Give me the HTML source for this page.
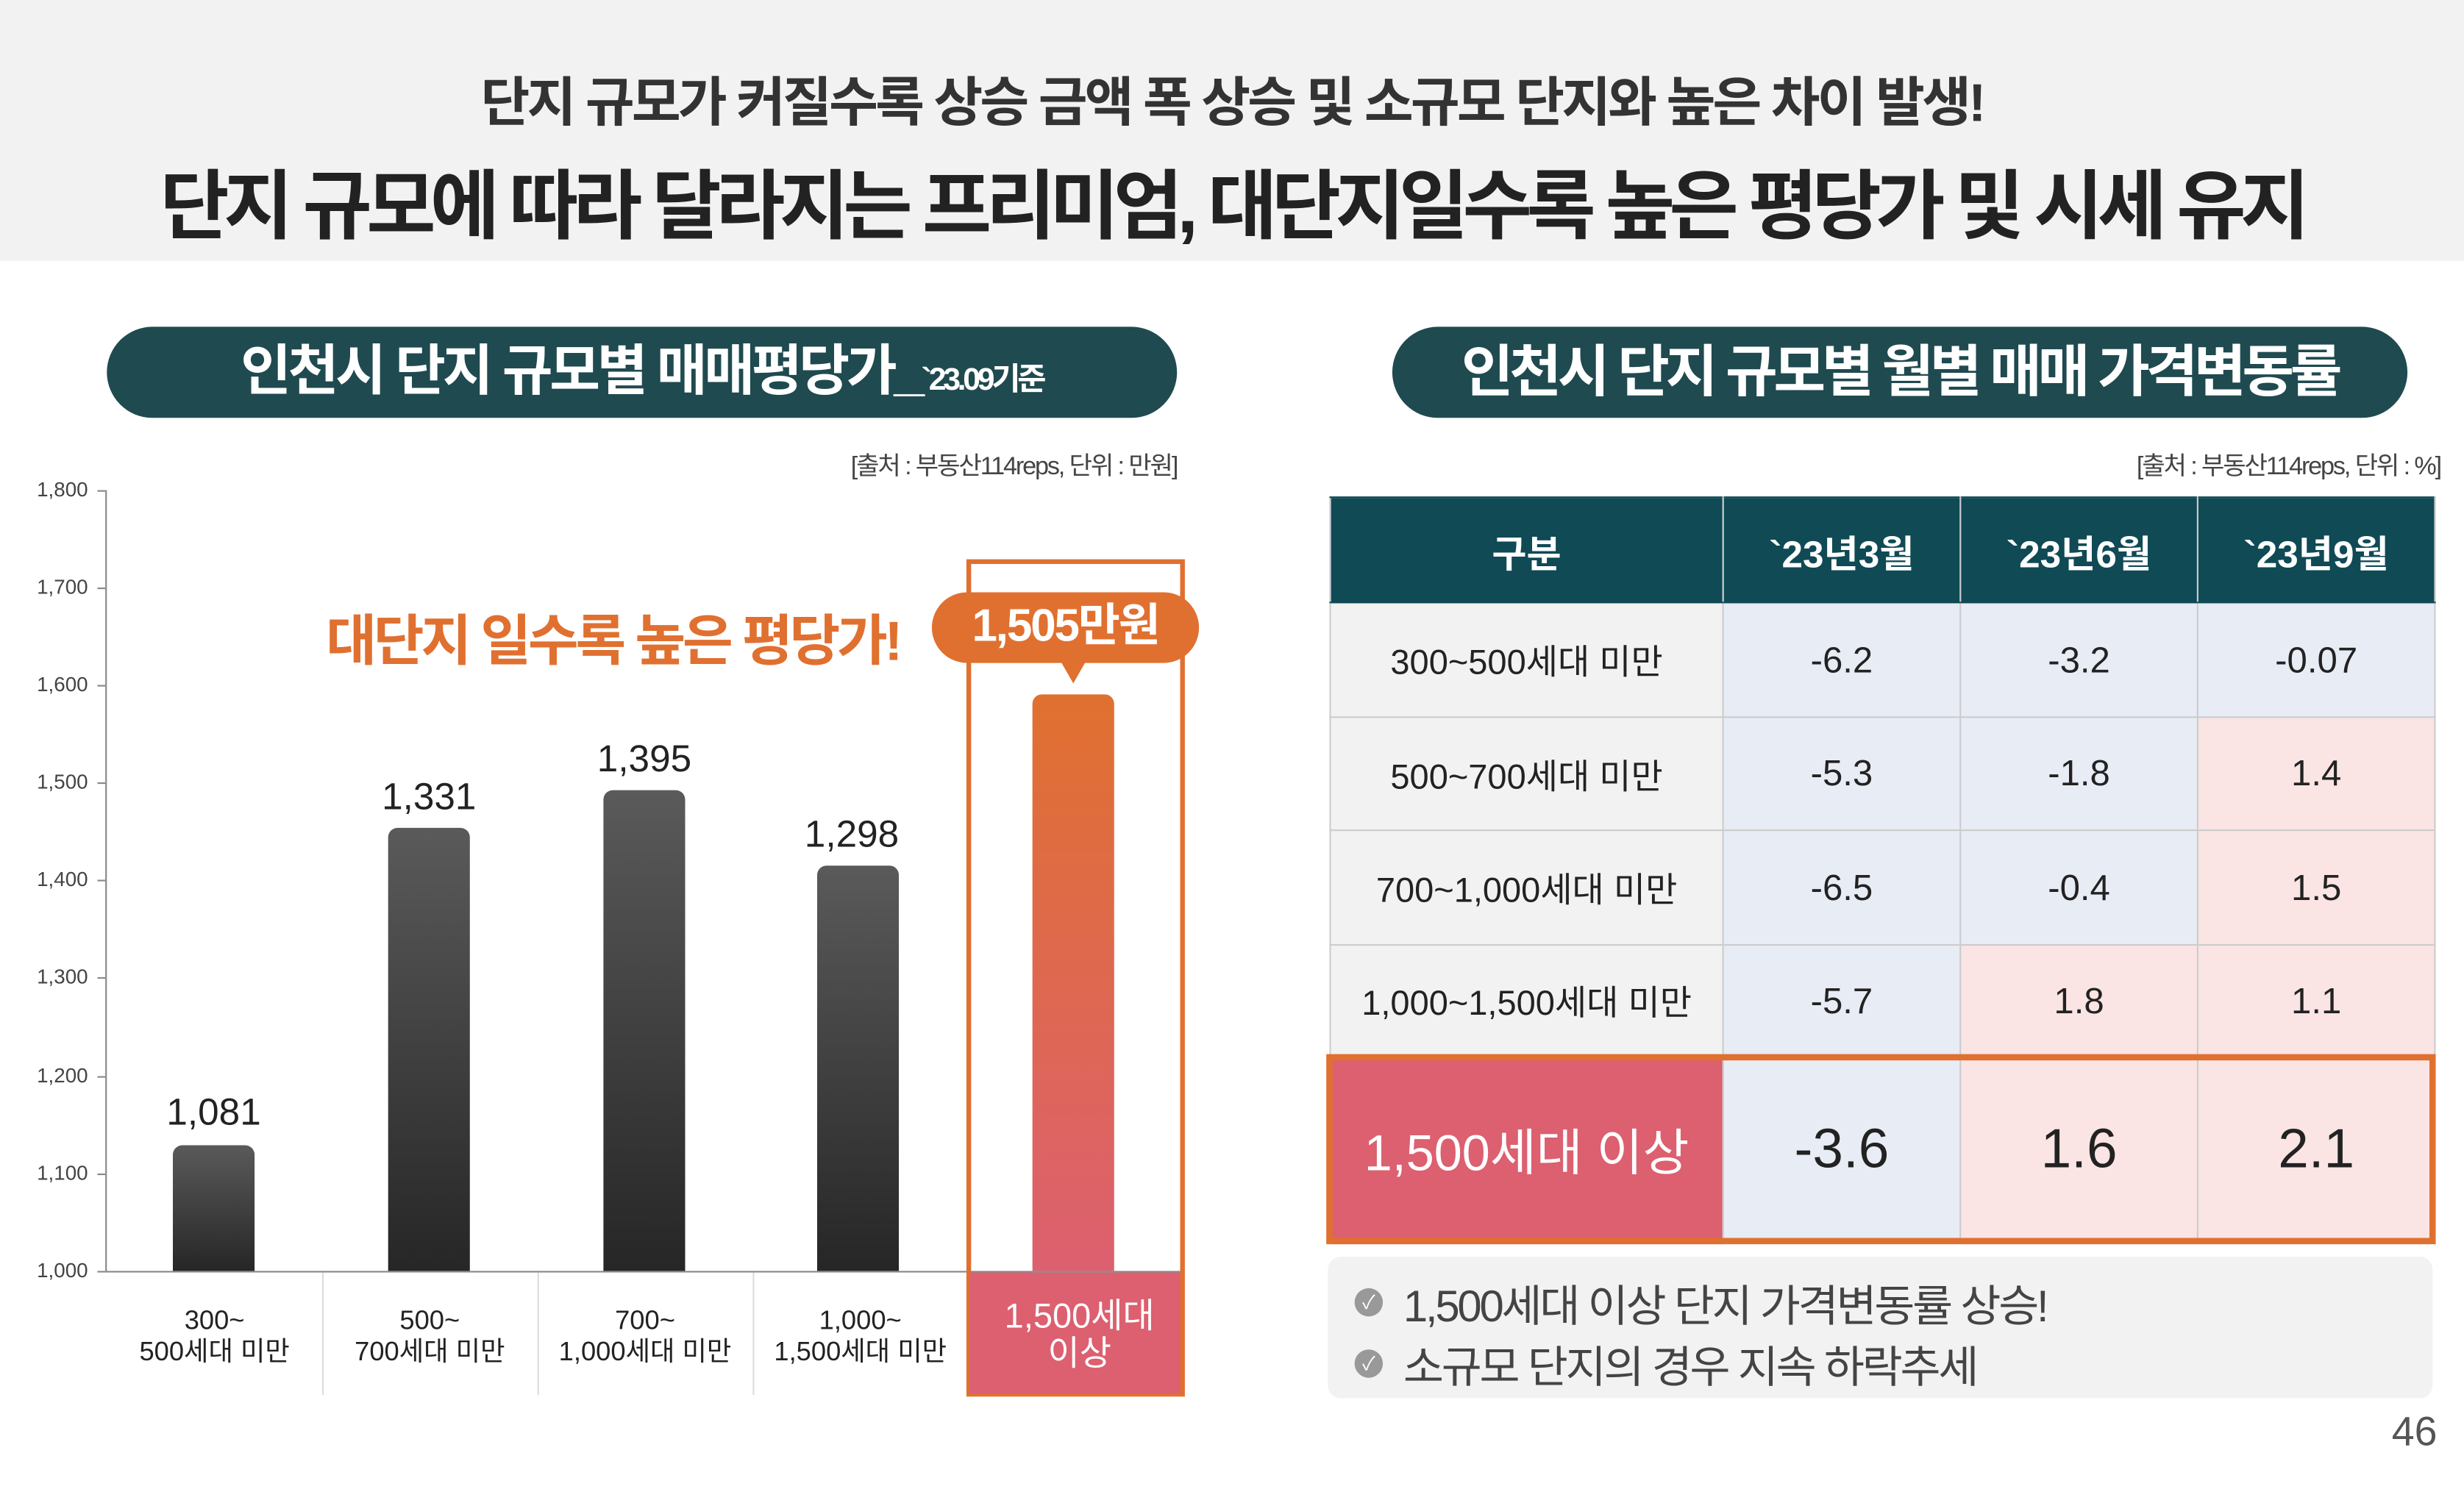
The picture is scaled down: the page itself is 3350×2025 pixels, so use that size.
<!DOCTYPE html>
<html><head><meta charset="utf-8"><style>
*{margin:0;padding:0;box-sizing:border-box}
body{width:3350px;height:2025px;overflow:hidden;background:#fff;font-family:"Liberation Sans","Noto Sans CJK KR",sans-serif}
#w{position:absolute;left:0;top:0;width:1568px;height:948px;transform:scale(2.13648);transform-origin:0 0}
.a{position:absolute}
.c{text-align:center;white-space:nowrap}
.pill{position:absolute;background:#1f4a50;border-radius:30px;color:#fff;font-weight:bold;text-align:center;white-space:nowrap}
.tick{position:absolute;left:0;width:56px;text-align:right;font-size:13px;color:#444}
.tk{position:absolute;left:62px;width:5px;height:1px;background:#888}
.bar{position:absolute;width:52px;border-radius:6px 6px 0 0;background:linear-gradient(#5a5a5a,#262626)}
.val{position:absolute;width:120px;text-align:center;font-size:24px;color:#222}
.cat{position:absolute;top:830px;width:137px;text-align:center;font-size:17px;line-height:20px;color:#222}
.sep{position:absolute;top:810px;width:1px;height:78px;background:#ddd}
td{border:1px solid #ccc;text-align:center;font-size:22px;color:#222}
td.n{font-size:23px}
</style></head><body><div id="w">
<div class="a" style="left:0;top:0;width:1568px;height:166px;background:#f2f2f2"></div>
<div class="a c" style="left:0;top:38px;width:1568px;font-size:34px;font-weight:bold;color:#333;letter-spacing:-1.8px">단지 규모가 커질수록 상승 금액 폭 상승 및 소규모 단지와 높은 차이 발생!</div>
<div class="a c" style="left:0;top:92px;width:1568px;font-size:48px;font-weight:bold;color:#222;letter-spacing:-3.6px">단지 규모에 따라 달라지는 프리미엄, 대단지일수록 높은 평당가 및 시세 유지</div>

<div class="pill" style="left:68px;top:208px;width:681px;height:58px;line-height:58px;font-size:35px;letter-spacing:-2px">인천시 단지 규모별 매매평당가_<span style="font-size:20px">`23.09기준</span></div>
<div class="a" style="right:819px;top:283px;font-size:16px;color:#444;letter-spacing:-1px">[출처 : 부동산114reps, 단위 : 만원]</div>

<div class="a" style="left:67px;top:312px;width:1px;height:497px;background:#888"></div>
<div class="a" style="left:67px;top:809px;width:686px;height:1px;background:#888"></div>
<div class="tick" style="top:304px">1,800</div><div class="tk" style="top:312px"></div>
<div class="tick" style="top:366px">1,700</div><div class="tk" style="top:374px"></div>
<div class="tick" style="top:428px">1,600</div><div class="tk" style="top:436px"></div>
<div class="tick" style="top:490px">1,500</div><div class="tk" style="top:498px"></div>
<div class="tick" style="top:552px">1,400</div><div class="tk" style="top:560px"></div>
<div class="tick" style="top:614px">1,300</div><div class="tk" style="top:622px"></div>
<div class="tick" style="top:677px">1,200</div><div class="tk" style="top:685px"></div>
<div class="tick" style="top:739px">1,100</div><div class="tk" style="top:747px"></div>
<div class="tick" style="top:801px">1,000</div><div class="tk" style="top:809px"></div>

<div class="a" style="left:615px;top:356px;width:139px;height:533px;border:3px solid #e07030"></div>
<div class="bar" style="left:110px;top:729px;height:80px"></div>
<div class="bar" style="left:247px;top:527px;height:282px"></div>
<div class="bar" style="left:384px;top:503px;height:306px"></div>
<div class="bar" style="left:520px;top:551px;height:258px"></div>
<div class="bar" style="left:657px;top:442px;height:367px;background:linear-gradient(#e07030,#dc6070)"></div>
<div class="val" style="left:76px;top:695px">1,081</div>
<div class="val" style="left:213px;top:494px">1,331</div>
<div class="val" style="left:350px;top:470px">1,395</div>
<div class="val" style="left:482px;top:518px">1,298</div>
<div class="a c" style="left:190px;top:380px;width:400px;font-size:35px;font-weight:bold;color:#e07030;letter-spacing:-2px">대단지 일수록 높은 평당가!</div>
<div class="a c" style="left:593px;top:377px;width:170px;height:45px;line-height:45px;border-radius:23px;background:#e07030;color:#fff;font-size:29px;font-weight:bold;letter-spacing:-1px">1,505만원</div>
<div class="a" style="left:675px;top:421px;width:0;height:0;border-left:8px solid transparent;border-right:8px solid transparent;border-top:14px solid #e07030"></div>

<div class="sep" style="left:205px"></div><div class="sep" style="left:342px"></div><div class="sep" style="left:479px"></div>
<div class="cat" style="left:68px;top:831px">300~<br>500세대 미만</div>
<div class="cat" style="left:205px;top:831px">500~<br>700세대 미만</div>
<div class="cat" style="left:342px;top:831px">700~<br>1,000세대 미만</div>
<div class="cat" style="left:479px;top:831px">1,000~<br>1,500세대 미만</div>
<div class="a" style="left:617px;top:810px;width:134px;height:77px;background:#dc6070"></div>
<div class="cat" style="left:620px;top:826px;width:134px;color:#fff;font-size:22px;line-height:24px">1,500세대<br>이상</div>

<div class="pill" style="left:886px;top:208px;width:646px;height:58px;line-height:58px;font-size:36px;letter-spacing:-2.5px">인천시 단지 규모별 월별 매매 가격변동률</div>
<div class="a" style="right:15px;top:283px;font-size:16px;color:#444;letter-spacing:-1px">[출처 : 부동산114reps, 단위 : %]</div>

<table class="a" style="left:846px;top:316px;width:703px;border-collapse:collapse;table-layout:fixed">
<colgroup><col style="width:250px"><col style="width:151px"><col style="width:151px"><col style="width:151px"></colgroup>
<tr style="height:67px;background:#0f4a55"><td style="color:#fff;font-weight:bold;font-size:24px;border-color:#0f4a55 #ccc">구분</td><td style="color:#fff;font-weight:bold;font-size:24px;border-color:#0f4a55 #ccc">`23년3월</td><td style="color:#fff;font-weight:bold;font-size:24px;border-color:#0f4a55 #ccc">`23년6월</td><td style="color:#fff;font-weight:bold;font-size:24px;border-color:#0f4a55 #ccc">`23년9월</td></tr>
<tr style="height:73px"><td style="background:#f2f2f2">300~500세대 미만</td><td class="n" style="background:#e8ecf5">-6.2</td><td class="n" style="background:#e8ecf5">-3.2</td><td class="n" style="background:#e8ecf5">-0.07</td></tr>
<tr style="height:72px"><td style="background:#f2f2f2">500~700세대 미만</td><td class="n" style="background:#e8ecf5">-5.3</td><td class="n" style="background:#e8ecf5">-1.8</td><td class="n" style="background:#fbe4e4">1.4</td></tr>
<tr style="height:73px"><td style="background:#f2f2f2">700~1,000세대 미만</td><td class="n" style="background:#e8ecf5">-6.5</td><td class="n" style="background:#e8ecf5">-0.4</td><td class="n" style="background:#fbe4e4">1.5</td></tr>
<tr style="height:71px"><td style="background:#f2f2f2">1,000~1,500세대 미만</td><td class="n" style="background:#e8ecf5">-5.7</td><td class="n" style="background:#fbe4e4">1.8</td><td class="n" style="background:#fbe4e4">1.1</td></tr>
<tr style="height:119px"><td style="background:#dc6070;color:#fff;font-size:32px">1,500세대 이상</td><td style="background:#e8ecf5;font-size:35px">-3.6</td><td style="background:#fbe4e4;font-size:35px">1.6</td><td style="background:#fbe4e4;font-size:35px">2.1</td></tr>
</table>
<div class="a" style="left:844px;top:671px;width:706px;height:121px;border:4px solid #e07030"></div>

<div class="a" style="left:845px;top:800px;width:703px;height:90px;background:#f2f2f2;border-radius:8px"></div>
<div class="a" style="left:862px;top:820px;width:18px;height:18px;border-radius:50%;background:#999;color:#fff;font-size:12px;line-height:18px;text-align:center">✓</div>
<div class="a" style="left:862px;top:859px;width:18px;height:18px;border-radius:50%;background:#999;color:#fff;font-size:12px;line-height:18px;text-align:center">✓</div>
<div class="a" style="left:893px;top:810px;font-size:28px;color:#444;letter-spacing:-1.5px;white-space:nowrap">1,500세대 이상 단지 가격변동률 상승!</div>
<div class="a" style="left:893px;top:849px;font-size:28px;color:#444;letter-spacing:-1.5px;white-space:nowrap">소규모 단지의 경우 지속 하락추세</div>
<div class="a" style="left:1522px;top:896px;font-size:26px;color:#555">46</div>
</div></body></html>
